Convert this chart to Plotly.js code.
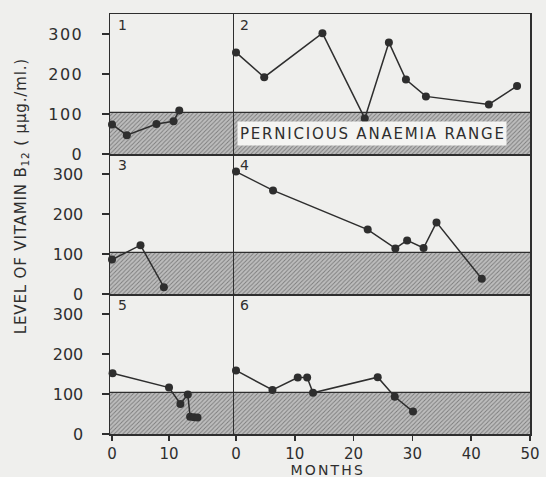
<!DOCTYPE html>
<html>
<head>
<meta charset="utf-8">
<script src="https://cdn.plot.ly/plotly-3.0.1.min.js"></script>
<style>
html,body{margin:0;padding:0;background:#efefed;}
#chart{width:546px;height:477px;}
#chart .xtick text{letter-spacing:2.4px;}
#chart .ytick text{letter-spacing:1.5px;}
#chart .annotation[data-index="7"] text{letter-spacing:0.85px;}
#chart .annotation[data-index="8"] text{letter-spacing:2.2px;}
#chart .annotation[data-index="6"] text{letter-spacing:1.8px;}
</style>
</head>
<body>
<div id="chart"></div>
<script>
// Data (months, µµg./ml.)
const panelLabels = ["1", "2", "3", "4", "5", "6"];
const p1x = [0, 2.6, 7.8, 10.8, 11.8];
const p1y = [74, 47, 75, 82, 109];
const p2x = [0, 4.8, 14.7, 21.9, 26.0, 28.9, 32.3, 43.0, 47.8];
const p2y = [254, 192, 302, 89, 279, 186, 144, 124, 170];
const p3x = [0, 5.0, 9.1];
const p3y = [86, 122, 17];
const p4x = [0, 6.3, 22.4, 27.1, 29.1, 31.9, 34.1, 41.8];
const p4y = [306, 259, 161, 114, 134, 115, 179, 38];
const p5x = [0.1, 10.0, 12.0, 13.3, 13.7, 14.4, 15.0];
const p5y = [152, 116, 75, 99, 43, 42, 41];
const p6x = [0, 6.2, 10.5, 12.1, 13.1, 24.1, 27.0, 30.1];
const p6y = [159, 110, 141, 141, 103, 142, 93, 56];
const rangeLower = 0;
const rangeUpper = 104; // pernicious anaemia range upper limit
const yTicks = [0, 100, 200, 300];
const leftXTicks = [0, 10];
const rightXTicks = [0, 10, 20, 30, 40, 50];
const bandText = "PERNICIOUS ANAEMIA RANGE";
const yTitle = "LEVEL OF VITAMIN B<sub>12</sub> ( µµg./ml.)";
const xTitle = "MONTHS";

const leftRange = [-0.35, 21.4];
const rightRange = [-0.34, 50];
const yRange = [0, 350];

const ink = "#2e2e2e";
const FONT = "DejaVu Sans, sans-serif";

const series = [[p1x, p1y], [p2x, p2y], [p3x, p3y], [p4x, p4y], [p5x, p5y], [p6x, p6y]];
const traces = [];
const layout = {
  width: 546, height: 477,
  margin: {l: 110, r: 16, t: 14, b: 43},
  paper_bgcolor: "#efefed", plot_bgcolor: "#efefed",
  showlegend: false,
  font: {family: FONT, color: ink, size: 14},
  annotations: []
};

const splitX = 124 / 420;
const rowH = 1 / 3;

for (let i = 0; i < 6; i++) {
  const n = i + 1;
  const col = i % 2;
  const row = Math.floor(i / 2); // 0 top
  const xr = col === 0 ? leftRange : rightRange;
  const xa = "x" + (n === 1 ? "" : n);
  const ya = "y" + (n === 1 ? "" : n);
  // hatched band
  traces.push({
    x: [xr[0], xr[1], xr[1], xr[0], xr[0]],
    y: [rangeLower, rangeLower, rangeUpper, rangeUpper, rangeLower],
    xaxis: xa, yaxis: ya, mode: "lines", fill: "toself",
    fillcolor: "#b0b0b0",
    fillpattern: {shape: "/", fgcolor: "#7c7c7c", bgcolor: "#bdbdbd", size: 3, solidity: 0.3},
    line: {color: "rgba(0,0,0,0)", width: 0}, hoverinfo: "skip"
  });
  // band upper border
  traces.push({
    x: xr, y: [rangeUpper, rangeUpper], xaxis: xa, yaxis: ya,
    mode: "lines", line: {color: ink, width: 1.3}, hoverinfo: "skip"
  });
  traces.push({
    x: series[i][0], y: series[i][1], xaxis: xa, yaxis: ya,
    mode: "lines+markers", cliponaxis: false,
    line: {color: ink, width: 1.5},
    marker: {color: ink, size: 8}
  });
  const bottom = row === 2;
  const xkey = "xaxis" + (n === 1 ? "" : n);
  const ykey = "yaxis" + (n === 1 ? "" : n);
  layout[xkey] = {
    domain: col === 0 ? [0, splitX] : [splitX, 1],
    anchor: ya, range: xr, showgrid: false, zeroline: false,
    showline: true, mirror: row === 0, linecolor: ink, linewidth: 1.5,
    ticks: bottom ? "outside" : "", ticklen: 5, tickwidth: 1.5, tickcolor: ink,
    tickvals: col === 0 ? leftXTicks : rightXTicks,
    showticklabels: bottom, ticklabelstandoff: 0,
    tickfont: {family: FONT, size: 15, color: ink}
  };
  layout[ykey] = {
    domain: [1 - (row + 1) * rowH, 1 - row * rowH],
    anchor: xa, range: yRange, showgrid: false, zeroline: false,
    showline: true, mirror: col === 1, linecolor: ink, linewidth: 1.5,
    ticks: col === 0 ? "outside" : "", ticklen: 7, tickwidth: 1.5, tickcolor: ink,
    tickvals: yTicks, showticklabels: col === 0, ticklabelstandoff: 15,
    tickfont: {family: FONT, size: 16, color: ink}
  };
  layout.annotations.push({
    text: panelLabels[i], xref: xa + " domain", yref: ya + " domain",
    x: col === 0 ? 0.05 : 0.012, y: 0.99, xanchor: "left", yanchor: "top",
    showarrow: false, font: {family: FONT, size: 14, color: ink}
  });
}

// index 6: band label
layout.annotations.push({
  text: bandText, xref: "x2", yref: "y2", x: 0.25, y: 52,
  xanchor: "left", yanchor: "middle", showarrow: false,
  width: 264, height: 19, align: "left",
  bgcolor: "#f4f4f2", borderpad: 2,
  font: {family: FONT, size: 15, color: ink}
});
// index 7: y title
layout.annotations.push({
  text: yTitle, xref: "paper", yref: "paper", x: -0.21, y: 0.567,
  textangle: -90, showarrow: false, xanchor: "center", yanchor: "middle",
  font: {family: FONT, size: 15, color: ink}
});
// index 8: x title
layout.annotations.push({
  text: xTitle, xref: "paper", yref: "paper", x: 0.52, y: -0.086,
  showarrow: false, xanchor: "center", yanchor: "middle",
  font: {family: FONT, size: 14, color: ink}
});

Plotly.newPlot("chart", traces, layout, {displayModeBar: false, staticPlot: true});
</script>
</body>
</html>
